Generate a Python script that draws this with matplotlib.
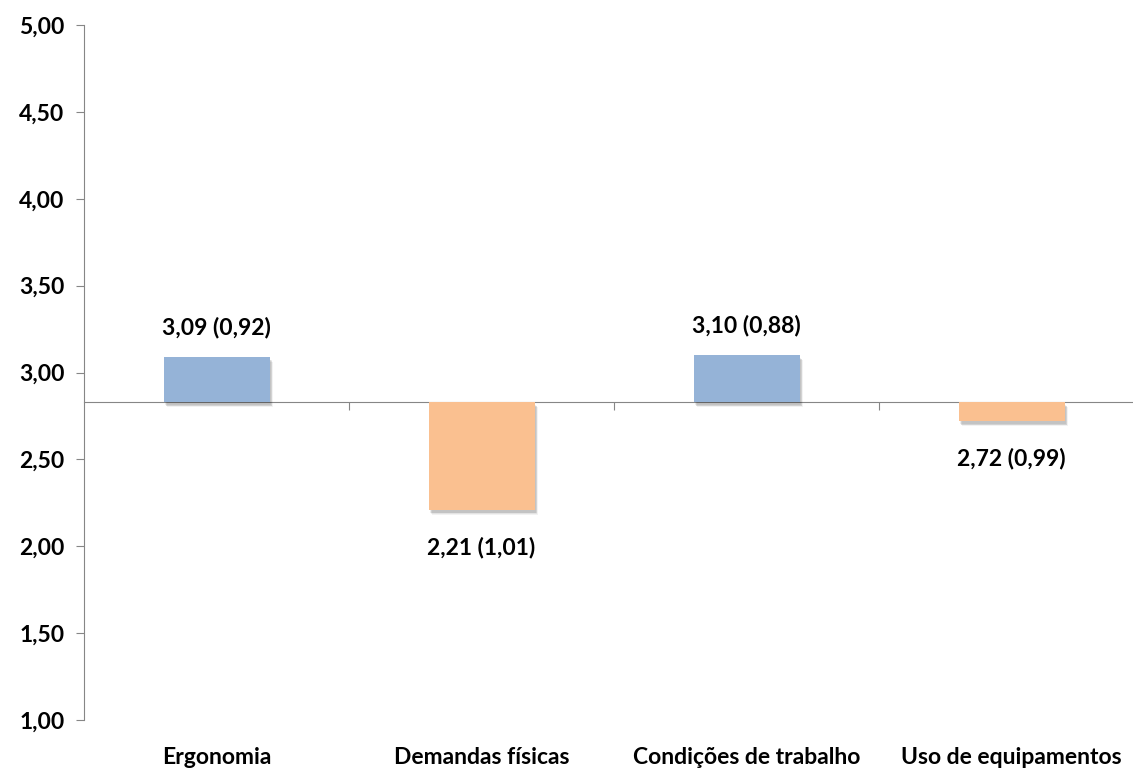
import matplotlib
matplotlib.use("Agg")
import matplotlib.pyplot as plt
import matplotlib.patheffects as pe

categories = ["Ergonomia", "Demandas físicas", "Condições de trabalho", "Uso de equipamentos"]
means = [3.09, 2.21, 3.10, 2.72]
sds = [0.92, 1.01, 0.88, 0.99]
baseline = 2.83
y_ticks = [1.00, 1.50, 2.00, 2.50, 3.00, 3.50, 4.00, 4.50, 5.00]

plt.rcParams['font.family'] = ['Lato', 'DejaVu Sans']
FS = 16.5

fig = plt.figure(figsize=(11.33, 7.69), dpi=100)
ax = fig.add_axes([84 / 1133, 49 / 769, 1060 / 1133, 695 / 769])

blue = "#95B3D7"
orange = "#FAC090"
axis_color = "#868686"

x = list(range(len(categories)))
heights = [m - baseline for m in means]
colors = [blue if h >= 0 else orange for h in heights]
bars = ax.bar(x, heights, bottom=baseline, width=0.40, color=colors, zorder=3)

# soft drop shadow built from a few translucent offset layers
shadow = [pe.SimplePatchShadow(offset=(dx, dy), shadow_rgbFace="#000000", alpha=a)
          for dx, dy, a in [(2.5, -3.5, 0.05), (2, -3, 0.06), (1.5, -2.5, 0.07), (1, -2, 0.07)]]
for b in bars:
    b.set_path_effects(shadow + [pe.Normal()])

def fmt(v):
    return f"{v:.2f}".replace(".", ",")

# value labels: mean (sd)
for xi, m, s, h in zip(x, means, sds, heights):
    off = 21 if h >= 0 else -27
    ax.annotate(f"{fmt(m)} ({fmt(s)})", (xi, m), xytext=(0, off), textcoords="offset points",
                ha="center", va="center", fontsize=FS, fontweight="bold", color="#000000")

ax.set_xlim(-0.5, 3.5)
ax.set_ylim(1.0, 5.0)
ax.set_yticks(y_ticks)
ax.set_yticklabels([fmt(v) for v in y_ticks], fontsize=FS, fontweight="bold")

for side in ("top", "right"):
    ax.spines[side].set_visible(False)
ax.spines["left"].set_color(axis_color)
ax.spines["bottom"].set_color(axis_color)
ax.spines["bottom"].set_position(("data", baseline))
ax.spines["bottom"].set_zorder(2)

ax.set_xticks([0.5, 1.5, 2.5])
ax.set_xticklabels([])
ax.tick_params(axis="x", length=6, color=axis_color, direction="out")
ax.tick_params(axis="y", length=6, color=axis_color, direction="out", pad=8)

# category names placed below the plot area
for xi, name in zip(x, categories):
    ax.annotate(name, (xi, 0), xycoords=("data", "axes fraction"), xytext=(0, -27),
                textcoords="offset points", ha="center", va="center",
                fontsize=FS, fontweight="bold", color="#000000", annotation_clip=False)

fig.savefig("out.png", dpi=100)
